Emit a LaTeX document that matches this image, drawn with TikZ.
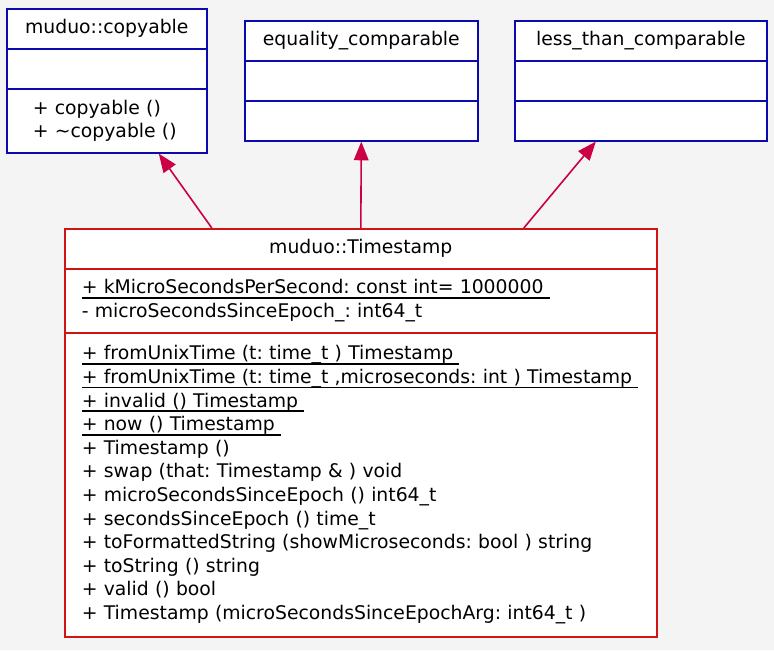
\documentclass[tikz,border=0pt]{standalone}
\usepackage{fontspec}
\setmainfont{DejaVu Sans}
\usepackage{tikz}
\usetikzlibrary{arrows.meta,positioning}
\definecolor{Fondo}{HTML}{F4F4F4}
\definecolor{Azul}{HTML}{0A0AB0}
\definecolor{Rojo}{HTML}{D01414}
\definecolor{Carmin}{HTML}{CC0044}
% miembro estatico: subrayado grueso que cubre tambien el espacio final
\newcommand{\estatico}[1]{\leavevmode\setbox0=\hbox{#1\ }\rlap{\rule[-3.6pt]{\wd0}{1.3pt}}\box0}

\begin{document}
\begin{tikzpicture}[
  x=0.75pt,y=-0.75pt,
  font=\fontsize{14.1}{17.7}\selectfont\frenchspacing,
  comp/.style={draw=Azul,fill=white,line width=1.2pt,inner ysep=0pt,anchor=north west},
  compR/.style={comp,draw=Rojo},
  titulo/.style={align=center,inner xsep=0pt},
  herencia/.style={-{Triangle[length=14pt,width=11pt]},Carmin,line width=1.2pt}
]
  \fill[Fondo] (0,0) rectangle (774,650);
  \useasboundingbox (0,0) rectangle (774,650);

  % Clases base
  \node[comp,titulo,minimum width=150pt,minimum height=30pt] (cop-tit) at (6,8) {muduo::copyable};
  \node[comp,minimum width=150pt,minimum height=30pt] (cop-atr) at (6,48) {};
  \node[comp,align=left,inner xsep=19.5pt,text width=111pt,minimum height=48pt] (cop-met) at (6,88)
    {+ copyable ()\\+ \textasciitilde copyable ()};

  \node[comp,titulo,minimum width=174.75pt,minimum height=30pt] (eq-tit) at (244,20) {equality\_comparable};
  \node[comp,minimum width=174.75pt,minimum height=30pt] (eq-atr) at (244,60) {};
  \node[comp,minimum width=174.75pt,minimum height=30pt] (eq-met) at (244,100) {};

  \node[comp,titulo,minimum width=189pt,minimum height=30pt] (lt-tit) at (514,20) {less\_than\_comparable};
  \node[comp,minimum width=189pt,minimum height=30pt] (lt-atr) at (514,60) {};
  \node[comp,minimum width=189pt,minimum height=30pt] (lt-met) at (514,100) {};

  % Clase derivada
  \node[compR,titulo,minimum width=444pt,minimum height=30pt] (ts-tit) at (64,228) {muduo::Timestamp};
  \node[compR,align=left,inner xsep=12.75pt,text width=418.5pt,minimum height=48pt] (ts-atr) at (64,268)
    {\estatico{+ kMicroSecondsPerSecond: const int= 1000000}\\
     - microSecondsSinceEpoch\_: int64\_t};
  \node[compR,align=left,inner xsep=12.75pt,text width=418.5pt,minimum height=228pt] (ts-met) at (64,332)
    {\estatico{+ fromUnixTime (t: time\_t ) Timestamp}\\
     \estatico{+ fromUnixTime (t: time\_t ,microseconds: int ) Timestamp}\\
     \estatico{+ invalid () Timestamp}\\
     \estatico{+ now () Timestamp}\\
     + Timestamp ()\\
     + swap (that: Timestamp \& ) void\\
     + microSecondsSinceEpoch () int64\_t\\
     + secondsSinceEpoch () time\_t\\
     + toFormattedString (showMicroseconds: bool ) string\\
     + toString () string\\
     + valid () bool\\
     + Timestamp (microSecondsSinceEpochArg: int64\_t )};

  \draw[herencia] ([xshift=-111.75pt]ts-tit.north) -- ([xshift=39pt]cop-met.south);
  \draw[herencia] (ts-tit.north) -- (eq-met.south);
  \draw[herencia] ([xshift=122.25pt]ts-tit.north) -- ([xshift=-33.75pt]lt-met.south);
\end{tikzpicture}
\end{document}
